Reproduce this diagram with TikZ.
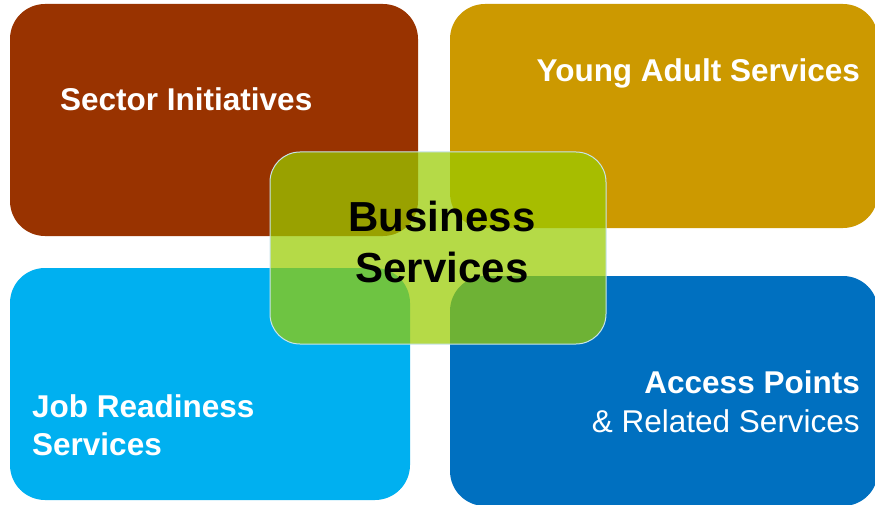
\documentclass[tikz,border=0pt]{standalone}
\usepackage{fontspec}
\setmainfont{Liberation Sans}
\definecolor{cbrown}{HTML}{993300}
\definecolor{cgold}{HTML}{CC9900}
\definecolor{csky}{HTML}{00B0F0}
\definecolor{cblue}{HTML}{0070C0}
\definecolor{cgreen}{HTML}{99CC00}
\definecolor{cedge}{HTML}{C8E4EC}
\begin{document}
\begin{tikzpicture}[x=1pt,y=-1pt,
  box/.style={rectangle, rounded corners=35pt, inner sep=0pt, draw=none},
  wtext/.style={inner sep=0pt, text=white, font=\fontsize{31.5}{38}\selectfont\bfseries},
  wlight/.style={inner sep=0pt, text=white, font=\fontsize{31.5}{38}\selectfont},
  btext/.style={inner sep=0pt, text=black, font=\fontsize{42}{50}\selectfont\bfseries}]
\useasboundingbox (0,0) rectangle (875,505);
\clip (0,0) rectangle (875,505);
\fill[white] (0,0) rectangle (875,505);
% quadrant boxes
\node[box, fill=cbrown, minimum width=408, minimum height=232] (sector) at (214,120) {};
\node[box, fill=cgold, minimum width=428, minimum height=224] (young) at (664,116) {};
\node[box, fill=csky, minimum width=400, minimum height=232] (job) at (210,384) {};
\node[box, fill=cblue, minimum width=428, minimum height=230] (access) at (664,391) {};
% centre box
\node[box, rounded corners=30pt, fill=cgreen, fill opacity=0.72, draw=cedge, line width=1pt,
  minimum width=336, minimum height=192] (business) at (438,248) {};
% texts
\node[wtext, anchor=base west] (sectorT) at (60,111) {Sector Initiatives};
\node[wtext, anchor=base east] (youngT) at (860,82) {Young Adult Services};
\node[wtext, anchor=base west] (jobT1) at (32,417) {Job Readiness};
\node[wtext, anchor=base west] (jobT2) at (32,455) {Services};
\node[wtext, anchor=base east] (accessT1) at (860,393) {Access Points};
\node[wlight, anchor=base east] (accessT2) at (860,432) {\& Related Services};
\node[btext, anchor=base] (busT1) at (442,231) {Business};
\node[btext, anchor=base] (busT2) at (442,282) {Services};
\end{tikzpicture}
\end{document}
